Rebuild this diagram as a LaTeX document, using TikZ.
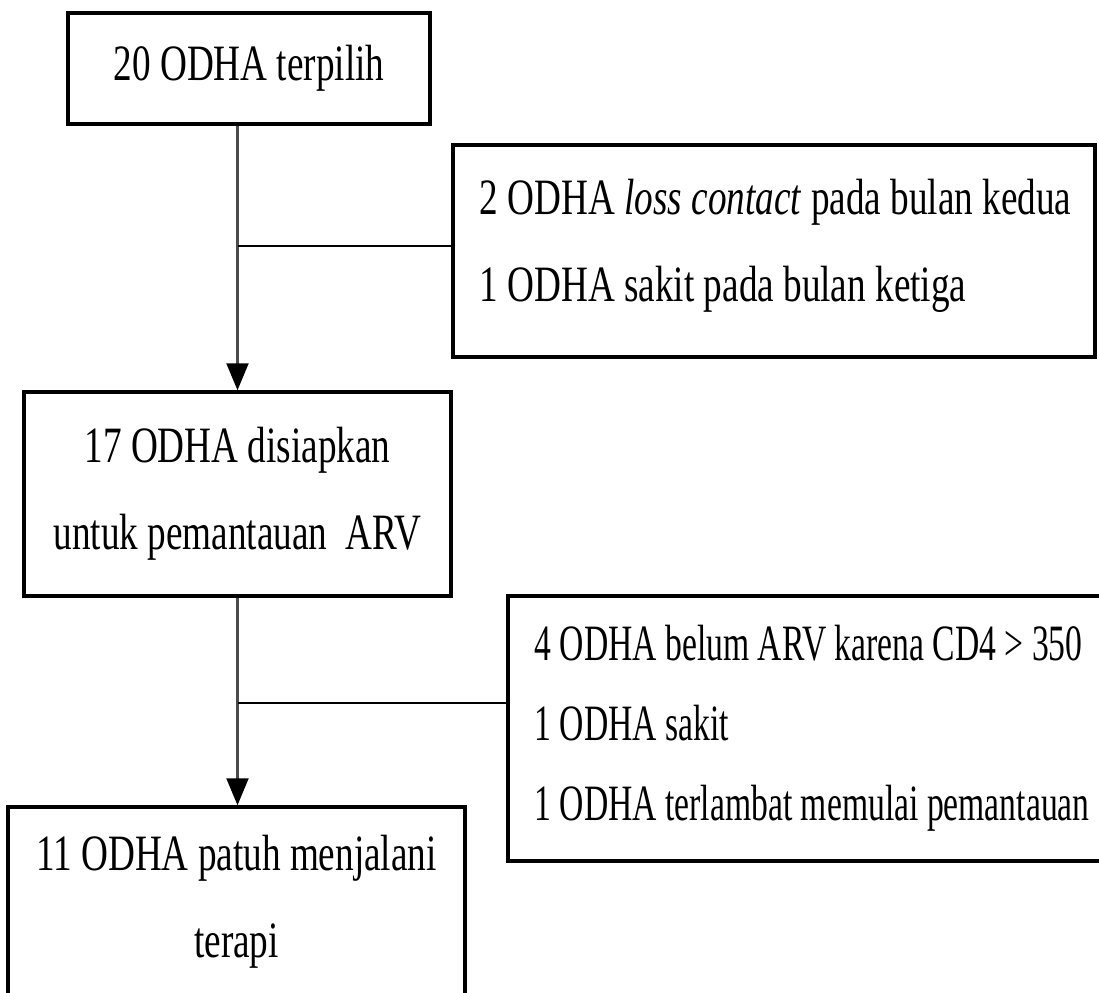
\documentclass[tikz,border=0pt]{standalone}
\usepackage{fontspec}
\setmainfont{Liberation Serif}[FakeStretch = 0.73]
\newfontfamily\narrowfont{Liberation Serif}[FakeStretch = 0.66]
\usetikzlibrary{arrows.meta}
\begin{document}
\begin{tikzpicture}[box/.style = {draw, line width = 1pt, inner sep = 0pt, font = {\fontsize{14.5pt}{24.7pt}\selectfont}},
		words/.style = {inner sep = 0pt, align = left, anchor = west, font = {\fontsize{14.5pt}{24.7pt}\selectfont}},
		flow/.style = {-{Triangle[width = 0.22cm, length = 0.27cm, color = black]}, line width = 0.6pt, black!70},
		link/.style = {line width = 0.8pt, black}]
			\useasboundingbox (0, 0) rectangle (10.99, -9.92);
			\node[box, minimum width = 3.62cm, minimum height = 1.11cm, align = center] (start) at (2.49, -0.685) {20 ODHA terpilih};
			\node[box, minimum width = 6.42cm, minimum height = 2.12cm, anchor = west] (lost) at (4.51, -2.51) {};
			\node[words] (losttext) at ([xshift = 0.28cm, yshift = 0.05cm]lost.west) {2 ODHA \textit{loss contact} pada bulan kedua\\1 ODHA sakit pada bulan ketiga};
			\node[box, minimum width = 4.27cm, minimum height = 2.04cm, align = center] (prep) at (2.375, -4.94) {17 ODHA disiapkan\\untuk pemantauan~ ARV};
			\node[box, minimum height = 2.65cm, inner xsep = 0.27cm, align = left, anchor = west, font = {\narrowfont\fontsize{14.5pt}{22.8pt}\selectfont}] (skip) at (5.06, -7.285) {4 ODHA belum ARV karena CD4 > 350\\1 ODHA sakit\\1 ODHA terlambat memulai pemantauan};
			\node[box, minimum width = 4.57cm, minimum height = 1.9cm, align = center] (done) at (2.365, -9.02) {11 ODHA patuh menjalani\\terapi};
			\coordinate (j1) at (2.375, -2.46);
			\coordinate (j2) at (2.375, -7.03);
			\draw[flow] (start.south -| prep.north) -- (prep.north);
			\draw[flow] (prep.south) -- (prep.south |- done.north);
			\draw[link] (j1) -- (j1 -| lost.west);
			\draw[link] (j2) -- (j2 -| skip.west);
		\end{tikzpicture}
\end{document}
